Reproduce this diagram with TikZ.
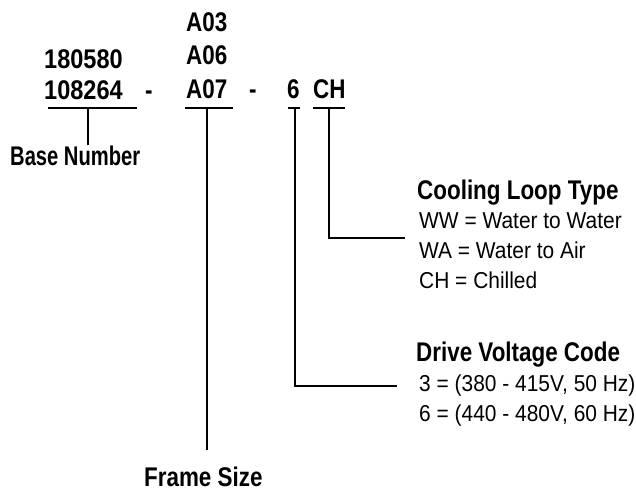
\documentclass[tikz,border=0pt]{standalone}
\usepackage{fontspec}
\setmainfont{Liberation Sans}[FakeStretch=0.91]
\newfontfamily\condbold{Liberation Sans}[FakeStretch=0.83]
\begin{document}
\begin{tikzpicture}[x=1pt,y=-1pt,
  code/.style={font=\condbold\fontsize{27}{32}\selectfont\bfseries, inner sep=0pt, anchor=base west},
  head/.style={font=\condbold\fontsize{27}{32}\selectfont\bfseries, inner sep=0pt, anchor=base west},
  desc/.style={font=\fontsize{23}{27}\selectfont, inner sep=0pt, anchor=base west},
  ln/.style={line width=1.3pt, line cap=butt}]
\useasboundingbox (0,0) rectangle (636,494);
% part codes
\node[code] (b1) at (44,69) {\scalebox{1.05}[1]{180580}};
\node[code] (b2) at (44,100) {\scalebox{1.05}[1]{108264}};
\node[code] (d1) at (145,100) {-};
\node[code] (f1) at (186,32) {A03};
\node[code] (f2) at (186,65) {A06};
\node[code] (f3) at (186,99) {A07};
\node[code] (d2) at (249,99) {-};
\node[code] (v) at (287,99) {6};
\node[code] (c) at (313,99) {CH};
% labels
\node[head] (bn) at (10,166) {\scalebox{0.9}[1]{Base Number}};
\node[head] (fs) at (144,486) {Frame Size};
\node[head] (cl) at (417,200) {Cooling Loop Type};
\node[desc] (cl1) at (419,229) {WW = Water to Water};
\node[desc] (cl2) at (419,258) {WA = Water to Air};
\node[desc] (cl3) at (419,288) {CH = Chilled};
\node[head] (dv) at (416,361) {Drive Voltage Code};
\node[desc] (dv1) at (419,391) {3 = (380 - 415V, 50 Hz)};
\node[desc] (dv2) at (419,421) {6 = (440 - 480V, 60 Hz)};
% underline coordinates
\coordinate (bL) at (48,108); \coordinate (bR) at (137,108); \coordinate (bM) at (88,108);
\coordinate (bE) at (88,145);
\coordinate (fL) at (185,108); \coordinate (fR) at (233,108); \coordinate (fM) at (207,108);
\coordinate (fE) at (207,450);
\coordinate (vL) at (288,108); \coordinate (vR) at (300,108); \coordinate (vM) at (295,108);
\coordinate (vE) at (397,386);
\coordinate (cL) at (313,108); \coordinate (cR) at (345,108); \coordinate (cM) at (329,108);
\coordinate (cE) at (405,238);
% lines
\draw[ln] (bL) -- (bR); \draw[ln] (bM) -- (bE);
\draw[ln] (fL) -- (fR); \draw[ln] (fM) -- (fE);
\draw[ln] (vL) -- (vR); \draw[ln] (vM) |- (vE);
\draw[ln] (cL) -- (cR); \draw[ln] (cM) |- (cE);
\end{tikzpicture}
\end{document}
